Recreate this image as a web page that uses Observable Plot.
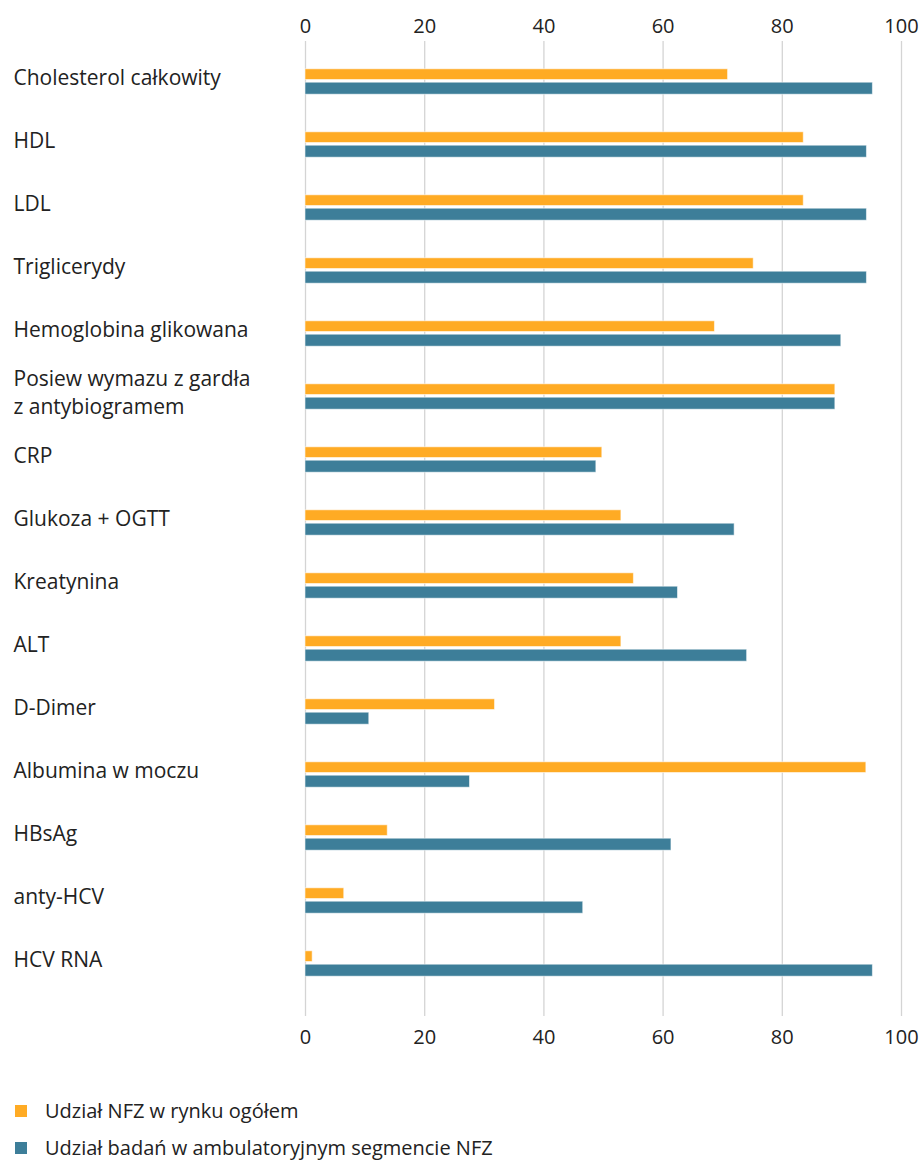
<!DOCTYPE html>
<html>
<head>
<meta charset="utf-8">
<script src="https://cdn.jsdelivr.net/npm/d3@7"></script>
<script src="https://cdn.jsdelivr.net/npm/@observablehq/plot@0.6"></script>
<style>
  body { margin: 0; background: #fff; font-family: "Open Sans", sans-serif; color: #222; }
  #chart svg { display: block; }
  .legend { margin-left: 15px; margin-top: 32px; font-size: 20px; }
  .legend div { display: flex; align-items: center; height: 37px; }
  .legend span.sw { width: 12px; height: 12px; margin-right: 18px; display: inline-block; }
</style>
</head>
<body>
<div id="chart"></div>
<div class="legend" id="legend"></div>
<script>
const categories = [
  "Cholesterol całkowity", "HDL", "LDL", "Triglicerydy", "Hemoglobina glikowana",
  "Posiew wymazu z gardła z antybiogramem", "CRP", "Glukoza + OGTT", "Kreatynina", "ALT",
  "D-Dimer", "Albumina w moczu", "HBsAg", "anty-HCV", "HCV RNA"
];
const nfzMarketShare = [70.9, 83.6, 83.6, 75.2, 68.7, 88.9, 49.8, 53.0, 55.1, 53.0, 31.8, 94.1, 13.8, 6.5, 1.2];
const ambulatoryShare = [95.2, 94.2, 94.2, 94.2, 89.9, 88.9, 48.8, 72.0, 62.5, 74.1, 10.7, 27.6, 61.4, 46.6, 95.2];
const seriesNames = ["Udział NFZ w rynku ogółem", "Udział badań w ambulatoryjnym segmencie NFZ"];
const seriesColors = ["#ffab24", "#3d7e99"];
const xTicks = [0, 20, 40, 60, 80, 100];

const rowsA = categories.map((c, i) => ({category: c, value: nfzMarketShare[i]}));
const rowsB = categories.map((c, i) => ({category: c, value: ambulatoryShare[i]}));

const labelFormat = c => c === "Posiew wymazu z gardła z antybiogramem" ? "Posiew wymazu z gardła\nz antybiogramem" : c;

const chart = Plot.plot({
  width: 922,
  height: 1060,
  marginLeft: 305,
  marginRight: 21,
  marginTop: 41,
  marginBottom: 44,
  style: {fontFamily: "Open Sans, sans-serif", fontSize: "20px", color: "#222", background: "#fff"},
  x: {domain: [0, 100], ticks: xTicks},
  y: {domain: categories, padding: 0, insetTop: 8.5, insetBottom: 21.5, axis: null},
  marks: [
    Plot.gridX(xTicks, {stroke: "#d4d4d4", strokeOpacity: 1, strokeWidth: 1.3}),
    Plot.barX(rowsA, {x: "value", y: "category", fill: seriesColors[0], stroke: "#fff", strokeOpacity: 0.55, strokeWidth: 1, insetTop: 18.8, insetBottom: 33.5}),
    Plot.barX(rowsB, {x: "value", y: "category", fill: seriesColors[1], stroke: "#fff", strokeOpacity: 0.55, strokeWidth: 1, insetTop: 32.2, insetBottom: 18.8}),
    Plot.axisX({anchor: "top", ticks: xTicks, tickSize: 0, tickPadding: 9, fill: "#222", fontSize: 20, label: null}),
    Plot.axisX({anchor: "bottom", ticks: xTicks, tickSize: 0, tickPadding: 13, fill: "#222", fontSize: 20, label: null}),
    Plot.axisY({anchor: "left", tickSize: 0, tickPadding: 292, textAnchor: "start", tickFormat: labelFormat, fill: "#222", fontSize: 21, lineHeight: 1.32, dy: -6, label: null})
  ]
});
document.getElementById("chart").appendChild(chart);

const legend = document.getElementById("legend");
seriesNames.forEach((name, i) => {
  const row = document.createElement("div");
  const sw = document.createElement("span");
  sw.className = "sw";
  sw.style.background = seriesColors[i];
  row.appendChild(sw);
  row.appendChild(document.createTextNode(name));
  legend.appendChild(row);
});
</script>
</body>
</html>
